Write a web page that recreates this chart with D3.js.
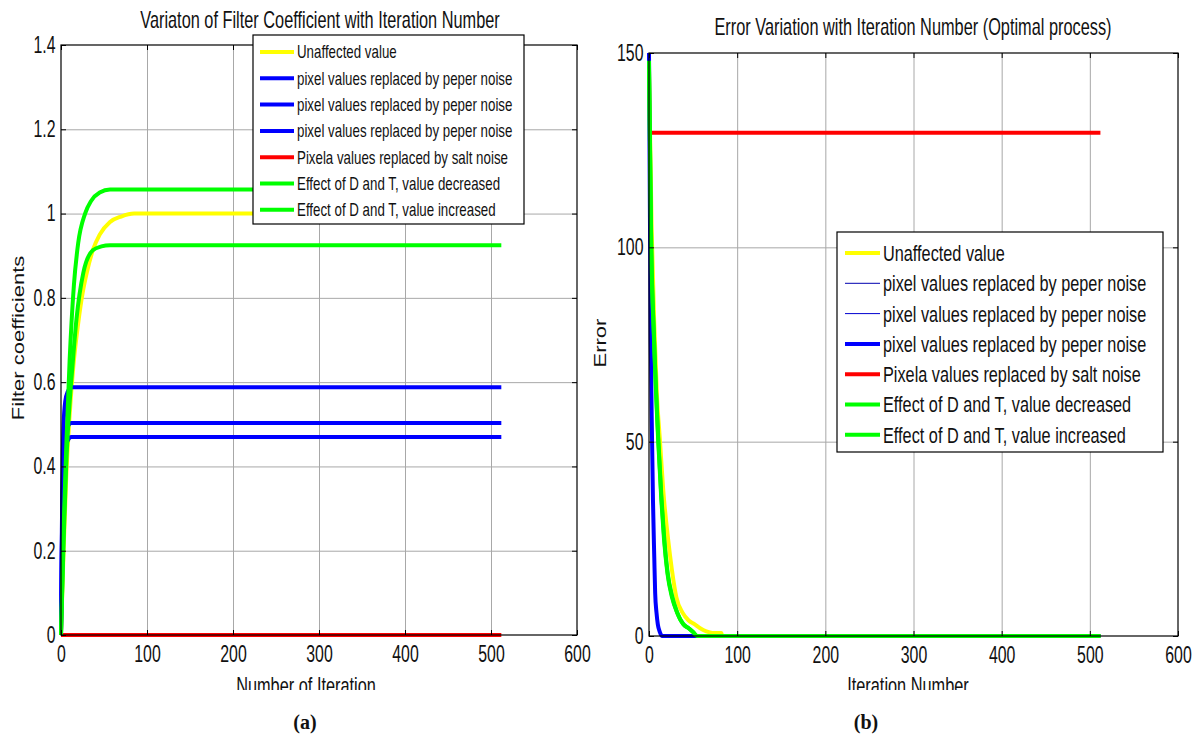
<!DOCTYPE html>
<html>
<head>
<meta charset="utf-8">
<script src="https://cdn.jsdelivr.net/npm/d3@7"></script>
<style>
body { margin: 0; background: #fff; }
svg text { font-family: "Liberation Sans", Arial, sans-serif; fill: #111; }
</style>
</head>
<body>
<div id="chart"></div>
<script>
// ********** DATA **********

// panel (a) : filter coefficient vs iteration
const yellowIter = [0, 3, 6, 10, 14, 20, 25, 30, 37, 45, 57, 70, 85, 512];
const yellowCoef = [0, 0.20, 0.37, 0.52, 0.63, 0.74, 0.81, 0.86, 0.913, 0.95, 0.98, 0.993, 1.0, 1.0];
const blueIter = [0, 1, 2, 3, 5, 8, 12, 512];
const blueCoefA = [0, 0.25, 0.42, 0.50, 0.555, 0.578, 0.588, 0.588];
const blueCoefB = [0, 0.22, 0.36, 0.43, 0.475, 0.495, 0.503, 0.503];
const blueCoefC = [0, 0.20, 0.34, 0.40, 0.445, 0.462, 0.470, 0.470];
const redIter = [0, 512];
const redCoef = [0, 0];
const greenHiIter = [0, 3, 6, 10, 15, 20, 28, 35, 45, 57, 512];
const greenHiCoef = [0, 0.25, 0.44, 0.65, 0.83, 0.93, 1.00, 1.03, 1.05, 1.057, 1.057];
const greenLoIter = [0, 3, 6, 10, 13, 18, 26, 37, 47, 57, 512];
const greenLoCoef = [0, 0.22, 0.40, 0.55, 0.63, 0.75, 0.86, 0.913, 0.922, 0.925, 0.925];

// panel (b) : error vs iteration
const errYellowIter = [0, 3, 6, 9, 12.5, 16, 21.6, 26, 31, 38, 45, 52, 58, 65, 72, 82, 83, 512];
const errYellow = [146, 105, 80, 62, 50, 38, 25, 17, 10, 6, 4, 3, 2, 1.2, 0.8, 0.8, 0, 0];
const errBlueIter = [0, 1, 2, 3.5, 4.5, 6, 7, 8.5, 10, 12, 15, 512];
const errBlue = [150, 110, 76, 50, 35, 20, 11, 6, 3, 1.2, 0, 0];
const errRedIter = [0, 512];
const errRed = [129.5, 129.5];
const errGreenIter = [0, 2.5, 5.7, 10.5, 14, 17, 21, 26, 32, 39, 45, 50, 55, 512];
const errGreenDec = [146, 100, 76, 50, 35, 25, 16, 10, 6, 3, 2, 1, 0, 0];
const errGreenInc = [148, 102, 77, 51, 36, 26, 16.5, 10.5, 6, 3, 2, 1, 0, 0];

const xTicks = [0, 100, 200, 300, 400, 500, 600];
const coefTicks = [0, 0.2, 0.4, 0.6, 0.8, 1, 1.2, 1.4];
const errTicks = [0, 50, 100, 150];

const legendNames = [
	"Unaffected value",
	"pixel values replaced by peper noise",
	"pixel values replaced by peper noise",
	"pixel values replaced by peper noise",
	"Pixela values replaced by salt noise",
	"Effect of D and T, value decreased",
	"Effect of D and T, value increased"
];

// ********** DRAWING **********

const SX = 0.74; // horizontal squeeze of the original picture

const svg = d3.select("#chart")
				.append("svg")
				.attr("width", 1199)
				.attr("height", 743);

// squeezed text
const label = (x, y, txt, size, anchor, rotate, sx = SX) => {
	const g = svg.append("g")
				.attr("transform", `translate(${x},${y}) scale(${sx},1)` + (rotate ? " rotate(-90)" : ""));
	g.append("text")
		.attr("text-anchor", anchor)
		.style("font-size", size + "px")
		.text(txt);
	return g;
}

const zip = (a, b) => a.map((v, i) => [v, b[i]]);

const drawPanel = (p) => {
	const x = d3.scaleLinear().domain([0, 600]).range([p.left, p.right]);
	const y = d3.scaleLinear().domain(p.yDomain).range([p.bottom, p.top]);
	const w = p.right - p.left, h = p.bottom - p.top;

	// grid
	svg.append("g")
		.attr("transform", `translate(0,${p.bottom})`)
		.call(d3.axisBottom(x).tickValues(xTicks.slice(1, -1)).tickSize(-h).tickFormat(""))
		.call(g => g.select(".domain").remove())
		.selectAll("line").attr("stroke", "#a8a8a8");
	svg.append("g")
		.attr("transform", `translate(${p.left},0)`)
		.call(d3.axisLeft(y).tickValues(p.yTicks.slice(1, -1)).tickSize(-w).tickFormat(""))
		.call(g => g.select(".domain").remove())
		.selectAll("line").attr("stroke", "#a8a8a8");

	// series
	const line = d3.line().x(d => x(d[0])).y(d => y(d[1])).curve(d3.curveMonotoneX);
	p.series.forEach(s => {
		svg.append("path")
			.attr("d", line(zip(s.it, s.val)))
			.attr("fill", "none")
			.attr("stroke", s.color)
			.attr("stroke-width", s.width)
			.attr("stroke-linejoin", "round");
	});

	// frame
	svg.append("rect")
		.attr("x", p.left).attr("y", p.top)
		.attr("width", w).attr("height", h)
		.attr("fill", "none").attr("stroke", "#000").attr("stroke-width", 1.2);

	// axes with inward ticks
	const bottom = svg.append("g")
		.attr("transform", `translate(0,${p.bottom})`)
		.call(d3.axisBottom(x).tickValues(xTicks).tickSizeInner(-5).tickSizeOuter(0).tickPadding(11));
	const left = svg.append("g")
		.attr("transform", `translate(${p.left},0)`)
		.call(d3.axisLeft(y).tickValues(p.yTicks).tickSizeInner(-5).tickSizeOuter(0).tickPadding(8).tickFormat(d3.format("~g")));
	svg.append("g")
		.attr("transform", `translate(0,${p.top})`)
		.call(d3.axisTop(x).tickValues(xTicks).tickSizeInner(-5).tickSizeOuter(0).tickFormat(""));
	svg.append("g")
		.attr("transform", `translate(${p.right},0)`)
		.call(d3.axisRight(y).tickValues(p.yTicks).tickSizeInner(-5).tickSizeOuter(0).tickFormat(""));
	[bottom, left].forEach(a => {
		a.selectAll("text")
			.attr("transform", "scale(0.69,1)")
			.style("font-size", "23px")
			.attr("fill", "#111");
	});
	svg.selectAll(".domain").remove();

	// titles
	label(p.titleX, p.titleY, p.title, 23, "middle", false, 0.71);
	label(p.xLabelX, 694, p.xLabel, 23, "middle", false, 0.71);
	label(p.yLabelX, p.yLabelY, p.yLabel, 22, "middle", true);

	// legend
	const lg = p.legend;
	svg.append("rect")
		.attr("x", lg.x).attr("y", lg.y)
		.attr("width", lg.w).attr("height", lg.h)
		.attr("fill", "#fff").attr("stroke", "#000").attr("stroke-width", 1.2);
	p.series.forEach((s, i) => {
		const cy = lg.row0 + i * lg.step;
		svg.append("line")
			.attr("x1", lg.x + lg.sw0).attr("x2", lg.x + lg.sw1)
			.attr("y1", cy).attr("y2", cy)
			.attr("stroke", s.color).attr("stroke-width", s.width);
		label(lg.x + lg.sw1 + 3, cy + lg.size * 0.36, legendNames[i], lg.size, "start");
	});
}

drawPanel({
	left: 61, right: 577, top: 45, bottom: 635,
	yDomain: [0, 1.4], yTicks: coefTicks,
	title: "Variaton of Filter Coefficient with Iteration Number", titleX: 320, titleY: 28,
	xLabel: "Number of Iteration", xLabelX: 306,
	yLabel: "Filter coefficients", yLabelX: 24, yLabelY: 338,
	legend: { x: 253, y: 35, w: 271, h: 189, row0: 52, step: 26.3, sw0: 7, sw1: 41, size: 18 },
	series: [
		{ it: yellowIter, val: yellowCoef, color: "#ffff00", width: 4 },
		{ it: blueIter, val: blueCoefA, color: "#0000ff", width: 4 },
		{ it: blueIter, val: blueCoefB, color: "#0000ff", width: 4 },
		{ it: blueIter, val: blueCoefC, color: "#0000ff", width: 4 },
		{ it: redIter, val: redCoef, color: "#ff0000", width: 4 },
		{ it: greenHiIter, val: greenHiCoef, color: "#00ff00", width: 4 },
		{ it: greenLoIter, val: greenLoCoef, color: "#00ff00", width: 4 }
	]
});

drawPanel({
	left: 649, right: 1178, top: 53, bottom: 636,
	yDomain: [0, 150], yTicks: errTicks,
	title: "Error Variation with Iteration Number (Optimal process)", titleX: 913, titleY: 35,
	xLabel: "Iteration Number", xLabelX: 908,
	yLabel: "Error", yLabelX: 606, yLabelY: 343,
	legend: { x: 837, y: 232, w: 326, h: 220, row0: 253, step: 30.3, sw0: 8, sw1: 43, size: 22 },
	series: [
		{ it: errYellowIter, val: errYellow, color: "#ffff00", width: 4 },
		{ it: errBlueIter, val: errBlue, color: "#0000b0", width: 1 },
		{ it: errBlueIter, val: errBlue, color: "#0000d0", width: 1 },
		{ it: errBlueIter, val: errBlue, color: "#0000ff", width: 4 },
		{ it: errRedIter, val: errRed, color: "#ff0000", width: 4 },
		{ it: errGreenIter, val: errGreenDec, color: "#00ff00", width: 4 },
		{ it: errGreenIter, val: errGreenInc, color: "#00ff00", width: 4 }
	]
});

// cut-off at the bottom of the axis labels, as in the source picture
svg.append("rect").attr("x", 0).attr("y", 690).attr("width", 1199).attr("height", 14).attr("fill", "#fff");

// captions
svg.append("text").attr("x", 305).attr("y", 729).attr("text-anchor", "middle")
	.style("font-family", "'Liberation Serif', 'Times New Roman', serif").style("font-weight", "bold").style("font-size", "20px")
	.text("(a)");
svg.append("text").attr("x", 866).attr("y", 729).attr("text-anchor", "middle")
	.style("font-family", "'Liberation Serif', 'Times New Roman', serif").style("font-weight", "bold").style("font-size", "20px")
	.text("(b)");
</script>
</body>
</html>
